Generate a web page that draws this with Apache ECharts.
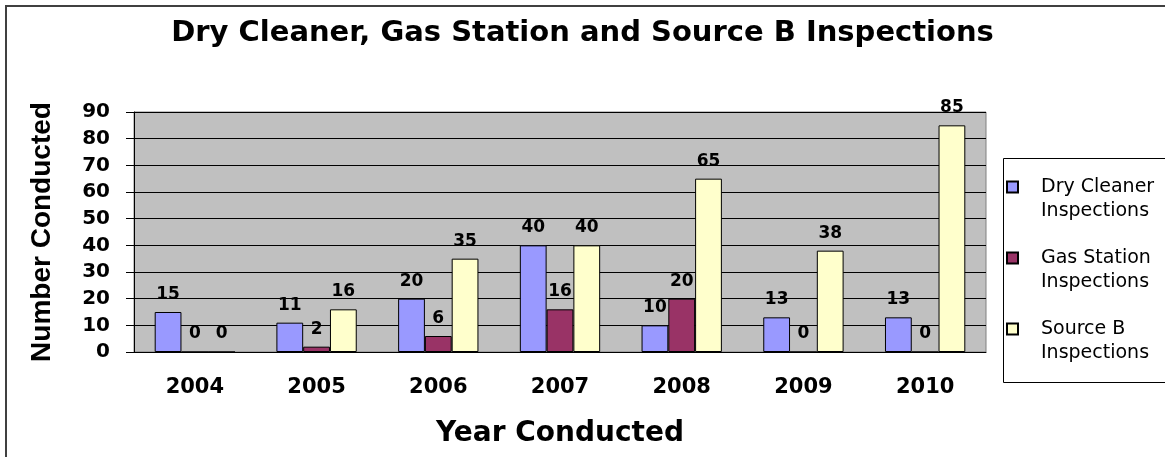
<!DOCTYPE html>
<html>
<head>
<meta charset="utf-8">
<script src="https://cdn.jsdelivr.net/npm/echarts@6/dist/echarts.min.js"></script>
<style>
  html, body { margin: 0; padding: 0; background: #fff; }
  #chart { width: 1165px; height: 457px; }
</style>
</head>
<body>
<div id="chart"></div>
<script>
const years = ['2004', '2005', '2006', '2007', '2008', '2009', '2010']
const dryCleaner = [15, 11, 20, 40, 10, 13, 13]
const gasStation = [0, 2, 6, 16, 20, 0, 0]
const sourceB = [0, 16, 35, 40, 65, 38, 85]
const yTicks = [0, 90, 10] // min, max, step

const boldFont = 'DejaVu Sans'

const chart = echarts.init(document.getElementById('chart'))

const makeSeries = (name, data, color) => ({
  name: name,
  type: 'bar',
  data: data,
  barGap: '0%',
  barCategoryGap: '34%',
  itemStyle: { color: color, borderColor: '#000', borderWidth: 1 },
  label: {
    show: true,
    position: 'top',
    distance: 9,
    color: '#000',
    fontFamily: boldFont,
    fontWeight: 'bold',
    fontSize: 17,
  },
})

chart.setOption({
  animation: false,
  backgroundColor: '#fff',
  title: {
    text: 'Dry Cleaner, Gas Station and Source B Inspections',
    left: 'center',
    top: 19,
    padding: [0, 0, 0, 8],
    textStyle: { fontFamily: boldFont, fontWeight: 'bold', fontSize: 29, color: '#000' },
  },
  graphic: [
    {
      type: 'rect',
      z: -10,
      shape: { x: 6, y: 6, width: 1200, height: 500 },
      style: { fill: 'none', stroke: '#404040', lineWidth: 2 },
    },
    {
      type: 'rect',
      z: -1,
      shape: { x: 1003.5, y: 158.5, width: 200, height: 224 },
      style: { fill: '#fff', stroke: '#000', lineWidth: 1 },
    },
  ],
  legend: {
    orient: 'vertical',
    left: 1006,
    top: 151,
    padding: 0,
    itemWidth: 11,
    itemHeight: 11,
    itemGap: -1,
    icon: 'rect',
    textStyle: {
      fontFamily: 'DejaVu Sans',
      fontSize: 19,
      lineHeight: 24,
      color: '#000',
      padding: [0, 0, 0, 18],
    },
    // leading empty line keeps the icon level with the first line of text
    formatter: (name) => '\n' + name.replace(' Inspections', '\nInspections'),
  },
  grid: {
    left: 134,
    right: 179,
    top: 112,
    bottom: 105,
    show: true,
    backgroundColor: '#c0c0c0',
    borderColor: '#808080',
    borderWidth: 1,
  },
  xAxis: {
    type: 'category',
    data: years,
    name: 'Year Conducted',
    nameLocation: 'middle',
    nameGap: 68,
    nameTextStyle: { fontFamily: boldFont, fontWeight: 'bold', fontSize: 28, color: '#000' },
    axisLine: { lineStyle: { color: '#000', width: 1 } },
    axisTick: { length: 6, lineStyle: { color: '#333' } },
    axisLabel: { margin: 25, fontFamily: boldFont, fontWeight: 'bold', fontSize: 21, color: '#000' },
  },
  yAxis: {
    type: 'value',
    min: yTicks[0],
    max: yTicks[1],
    interval: yTicks[2],
    name: 'Number Conducted',
    nameLocation: 'middle',
    nameGap: 78,
    nameTextStyle: { fontFamily: 'Liberation Sans', fontWeight: 'bold', fontSize: 28, color: '#000' },
    axisLine: { show: true, lineStyle: { color: '#000', width: 1 } },
    axisTick: { show: true, length: 8, lineStyle: { color: '#000' } },
    axisLabel: { margin: 24, fontFamily: boldFont, fontWeight: 'bold', fontSize: 20, color: '#000' },
    splitLine: { lineStyle: { color: '#000', width: 1 } },
  },
  series: [
    makeSeries('Dry Cleaner Inspections', dryCleaner, '#9999ff'),
    makeSeries('Gas Station Inspections', gasStation, '#993366'),
    makeSeries('Source B Inspections', sourceB, '#ffffcc'),
  ],
})
</script>
</body>
</html>
